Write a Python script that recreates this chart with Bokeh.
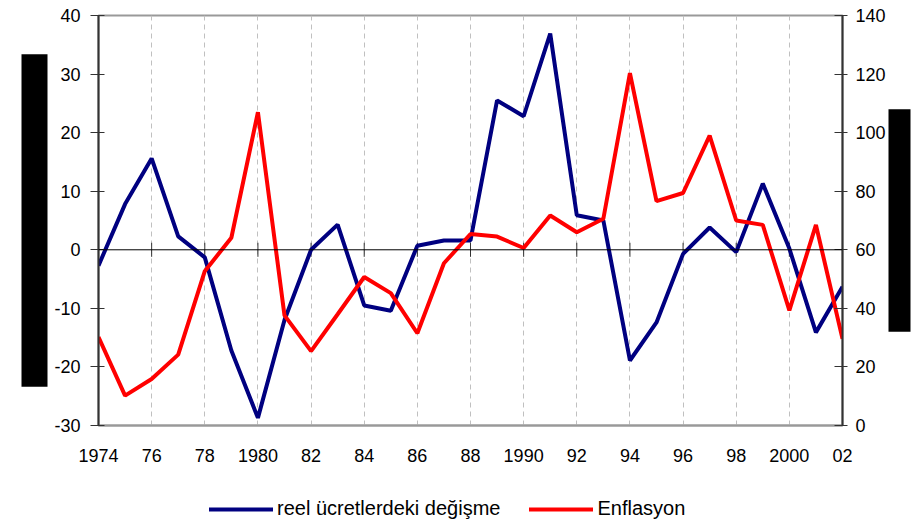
from bokeh.plotting import figure
from bokeh.layouts import column
from bokeh.models import (Range1d, LinearAxis, FixedTicker, Span, Legend, LegendItem, Title)
from bokeh.embed import file_html
from bokeh.resources import INLINE

years = list(range(1974, 2003))
reel = [-2.7, 7.8, 15.6, 2.3, -1.3, -17.2, -28.7, -12.0, 0.0, 4.3, -9.5, -10.4, 0.7, 1.6,
        1.6, 25.5, 22.8, 36.9, 5.9, 5.0, -18.9, -12.4, -0.7, 3.8, -0.4, 11.3, 0.2, -14.1, -6.3]
enflasyon = [30.2, 10.2, 15.9, 24.2, 52.7, 64.1, 107.0, 37.6, 25.4, 38.0, 50.7, 45.2, 31.5, 55.4,
             65.4, 64.5, 60.6, 71.7, 66.0, 70.6, 120.3, 76.6, 79.4, 99.0, 70.0, 68.5, 39.3, 68.5, 29.6]
tick_years = list(range(1974, 2003, 2))
tick_labels = ["1974", "76", "78", "1980", "82", "84", "86", "88", "1990", "92", "94",
               "96", "98", "2000", "02"]
left_ticks = list(range(-30, 41, 10))
left_tick_labels = ["-30", "-20", "-10", "0", "10", "20", "30", "40"]
right_ticks = list(range(0, 141, 20))
series_names = ["reel ücretlerdeki değişme", "Enflasyon"]

FONT = "Liberation Sans"
BLUE = "#000080"
RED = "#ff0000"
TICK_FS = "18px"

p = figure(width=914, height=480, output_backend="svg", toolbar_location=None,
           x_range=Range1d(1974, 2002), y_range=Range1d(-30, 40),
           min_border_left=98, min_border_right=72, min_border_top=15, min_border_bottom=55)
p.extra_y_ranges = {"right": Range1d(0, 140)}
p.outline_line_color = "#999999"
p.outline_line_width = 2
p.background_fill_color = "white"
p.border_fill_color = "white"

# axes styling
p.yaxis.ticker = FixedTicker(ticks=left_ticks)
p.yaxis.major_label_overrides = {t: l for t, l in zip(left_ticks, left_tick_labels)}
p.yaxis.axis_line_color = "#333333"
p.yaxis.axis_line_width = 2
p.yaxis.major_tick_line_color = "#333333"
p.yaxis.major_tick_line_width = 1
p.yaxis.major_tick_out = 8
p.yaxis.major_tick_in = 6
p.yaxis.minor_tick_line_color = None
p.yaxis.major_label_standoff = 10
p.yaxis.major_label_text_font = FONT
p.yaxis.major_label_text_font_size = TICK_FS
p.yaxis.major_label_text_color = "black"

ax_r = LinearAxis(y_range_name="right", ticker=FixedTicker(ticks=right_ticks))
ax_r.axis_line_color = "#333333"
ax_r.axis_line_width = 2
ax_r.major_tick_line_color = "#333333"
ax_r.major_tick_out = 5
ax_r.major_tick_in = 8
ax_r.minor_tick_line_color = None
ax_r.major_label_standoff = 8
ax_r.major_label_text_font = FONT
ax_r.major_label_text_font_size = TICK_FS
ax_r.major_label_text_color = "black"
p.add_layout(ax_r, "right")

p.xaxis.ticker = FixedTicker(ticks=tick_years)
p.xaxis.major_label_overrides = {y: l for y, l in zip(tick_years, tick_labels)}
p.xaxis.axis_line_color = "#999999"
p.xaxis.axis_line_width = 2
p.xaxis.major_tick_line_color = None
p.xaxis.minor_tick_line_color = None
p.xaxis.major_label_standoff = 17
p.xaxis.major_label_text_font = FONT
p.xaxis.major_label_text_font_size = TICK_FS
p.xaxis.major_label_text_color = "black"

p.ygrid.grid_line_color = None
p.xgrid.ticker = FixedTicker(ticks=tick_years[1:-1])
p.xgrid.grid_line_color = "#c0c0c0"
p.xgrid.grid_line_dash = "5 4"
p.xgrid.grid_line_width = 1

# zero line with tick marks
p.add_layout(Span(location=0, dimension="width", line_color="black", line_width=1))
p.segment(x0=tick_years, x1=tick_years, y0=[-1.2] * len(tick_years), y1=[1.2] * len(tick_years),
          line_color="#333333", line_width=1)

p.line(years, reel, line_color=BLUE, line_width=4)
p.line(years, enflasyon, line_color=RED, line_width=4, y_range_name="right")

# blacked-out axis titles (rendered as solid black title boxes)
t_left = Title(text=" " * 52, align="center", text_font=FONT, text_font_size="23px",
               text_color="black", background_fill_color="black", standoff=8)
p.add_layout(t_left, "left")
t_right = Title(text=" " * 40, align="center", text_font=FONT, text_font_size="20px",
                text_color="black", background_fill_color="black", standoff=0)
p.add_layout(t_right, "right")

# legend row (series drawn outside its view, only used for the legend glyphs)
pl = figure(width=914, height=40, output_backend="svg", toolbar_location=None,
            x_axis_type=None, y_axis_type=None, x_range=Range1d(0, 1), y_range=Range1d(0, 1),
            min_border=0)
pl.outline_line_color = None
pl.grid.grid_line_color = None
l1 = pl.line(years, reel, line_color=BLUE, line_width=4, line_cap="round")
l2 = pl.line(years, enflasyon, line_color=RED, line_width=4, line_cap="round")
legend = Legend(items=[LegendItem(label=series_names[0], renderers=[l1]),
                       LegendItem(label=series_names[1], renderers=[l2])],
                location=(111, 0), orientation="horizontal")
legend.border_line_color = None
legend.background_fill_alpha = 0
legend.padding = 0
legend.margin = 0
legend.spacing = 29
legend.glyph_width = 64
legend.glyph_height = 20
legend.label_height = 20
legend.label_standoff = 4
legend.label_text_font = FONT
legend.label_text_font_size = "20px"
legend.label_text_color = "black"
pl.add_layout(legend, "center")

layout = column(p, pl, spacing=0)
open("out.html", "w").write(file_html(layout, INLINE))
